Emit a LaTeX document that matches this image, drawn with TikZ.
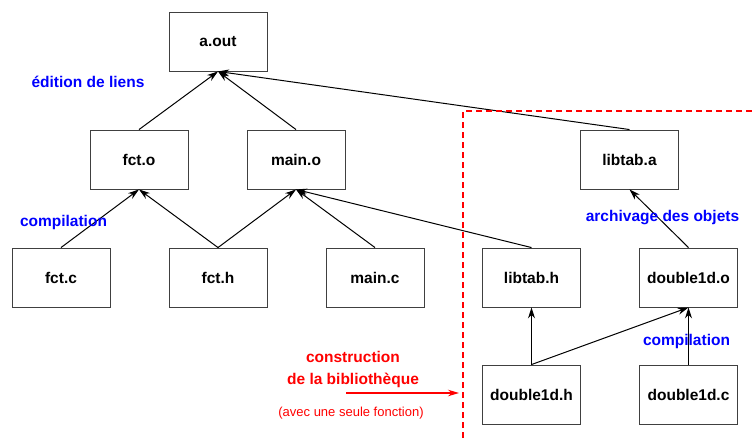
\documentclass[tikz,border=0pt]{standalone}
\usepackage{fontspec}
\setmainfont{Liberation Sans}
\usetikzlibrary{arrows.meta}
\definecolor{zonered}{RGB}{255,0,0}
\begin{document}
\begin{tikzpicture}[x=1pt,y=-1pt,
  filebox/.style={draw=black!75,line width=0.9pt,minimum width=98pt,minimum height=59pt,inner sep=0pt,
    font=\fontsize{15.5}{18}\selectfont\bfseries},
  dep/.style={draw=black,line width=1pt,-{Stealth[length=11pt,width=7pt,inset=3.5pt]}},
  bluelab/.style={text=blue,font=\fontsize{15.5}{18}\selectfont\bfseries,inner sep=0pt},
  redlab/.style={text=zonered,font=\fontsize{15.5}{18}\selectfont\bfseries,inner sep=0pt},
  zone/.style={draw=zonered,line width=1.2pt,dash pattern=on 6pt off 4pt}]
\useasboundingbox (0,0) rectangle (752,439);
% boxes
\node[filebox] (aout) at (218,41.5) {a.out};
\node[filebox] (fcto) at (139,159.5) {fct.o};
\node[filebox] (maino) at (296,159.5) {main.o};
\node[filebox] (libtaba) at (629.5,159.5) {libtab.a};
\node[filebox] (fctc) at (61,277.5) {fct.c};
\node[filebox] (fcth) at (218,277.5) {fct.h};
\node[filebox] (mainc) at (375,277.5) {main.c};
\node[filebox] (libtabh) at (531.5,277.5) {libtab.h};
\node[filebox] (dbo) at (688.5,277.5) {double1d.o};
\node[filebox] (dbh) at (531.5,394.5) {double1d.h};
\node[filebox] (dbc) at (688.5,394.5) {double1d.c};
% dependencies
\draw[dep] (fcto.north) -- (aout.south);
\draw[dep] (maino.north) -- (aout.south);
\draw[dep] (libtaba.north) -- (aout.south);
\draw[dep] (fctc.north) -- (fcto.south);
\draw[dep] (fcth.north) -- (fcto.south);
\draw[dep] (fcth.north) -- (maino.south);
\draw[dep] (mainc.north) -- (maino.south);
\draw[dep] (libtabh.north) -- (maino.south);
\draw[dep] (dbo.north) -- (libtaba.south);
\draw[dep] (dbh.north) -- (libtabh.south);
\draw[dep] (dbh.north) -- (dbo.south);
\draw[dep] (dbc.north) -- (dbo.south);
% labels
\node[bluelab] (l1) at (88,82) {édition de liens};
\node[bluelab] (l2) at (63.5,222) {compilation};
\node[bluelab] (l3) at (662.5,218) {archivage des objets};
\node[bluelab] (l4) at (686.5,341) {compilation};
% dashed library zone
\coordinate (zt) at (463,111);
\coordinate (zr) at (752,111);
\coordinate (zb) at (463,439);
\draw[zone] (zr) -- (zt) -- (zb);
% construction note
\node[redlab] (c1) at (353,357) {construction};
\node[redlab] (c2) at (353,380) {de la bibliothèque};
\node[text=zonered,font=\fontsize{13}{15}\selectfont,inner sep=0pt] (c3) at (351,413) {(avec une seule fonction)};
\coordinate (ca) at (346,393);
\coordinate (cb) at (459,393);
\draw[draw=zonered,fill=zonered,line width=1.1pt,-{Stealth[length=11pt,width=6.5pt,inset=3.5pt]}] (ca) -- (cb);
\end{tikzpicture}
\end{document}
